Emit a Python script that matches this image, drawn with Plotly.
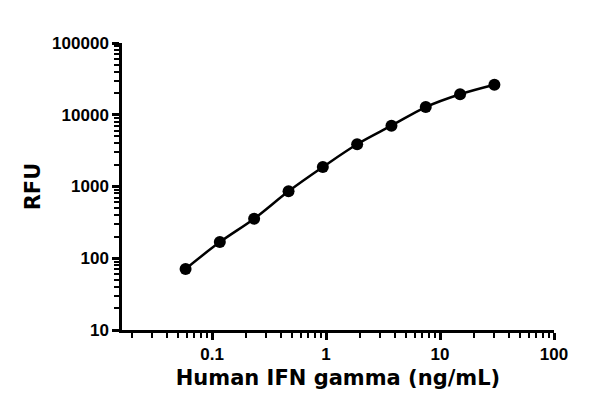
import plotly.graph_objects as go

# IFN gamma standard curve
conc = [0.0586, 0.117, 0.234, 0.469, 0.9375, 1.875, 3.75, 7.5, 15, 30]
rfu = [71, 168, 356, 858, 1870, 3880, 7040, 12800, 19300, 26200]

x_ticks = [0.1, 1, 10, 100]
x_ticktext = ['0.1', '1', '10', '100']
y_ticks = [10, 100, 1000, 10000, 100000]
y_ticktext = ['10', '100', '1000', '10000', '100000']

fig = go.Figure()
fig.add_trace(go.Scatter(
    x=conc, y=rfu,
    mode='lines+markers',
    line=dict(color='black', width=2.5, shape='spline'),
    marker=dict(color='black', size=12),
    showlegend=False
))

tick_font = dict(family='Liberation Sans', size=17, color='black', weight='bold')
title_font = dict(family='DejaVu Sans', size=21, color='black', weight='bold')

fig.update_xaxes(
    type='log', range=[-1.79, 2],
    tickvals=x_ticks, ticktext=x_ticktext,
    ticks='outside', ticklen=7, tickwidth=2.5, tickcolor='black',
    showline=True, linewidth=2.5, linecolor='black',
    showgrid=False, zeroline=False,
    tickfont=tick_font,
    minor=dict(ticks='outside', ticklen=5, tickwidth=2, tickcolor='black', dtick='D1', showgrid=False),
    title=dict(text='Human IFN gamma (ng/mL)', font=title_font, standoff=8),
)
fig.update_yaxes(
    type='log', range=[1, 5],
    tickvals=y_ticks, ticktext=y_ticktext,
    ticks='outside', ticklen=7, tickwidth=2.5, tickcolor='black',
    showline=True, linewidth=2.5, linecolor='black',
    showgrid=False, zeroline=False,
    tickfont=tick_font,
    minor=dict(ticks='outside', ticklen=5, tickwidth=2, tickcolor='black', dtick='D1', showgrid=False),
    title=dict(text='RFU', font=title_font, standoff=6),
)

# the page body adds 8px, so margins are trimmed to keep the plot area in place
fig.update_layout(
    width=600, height=419,
    margin=dict(l=114, r=54, t=35, b=97),
    plot_bgcolor='white', paper_bgcolor='white',
)

fig.write_html('out.html')
